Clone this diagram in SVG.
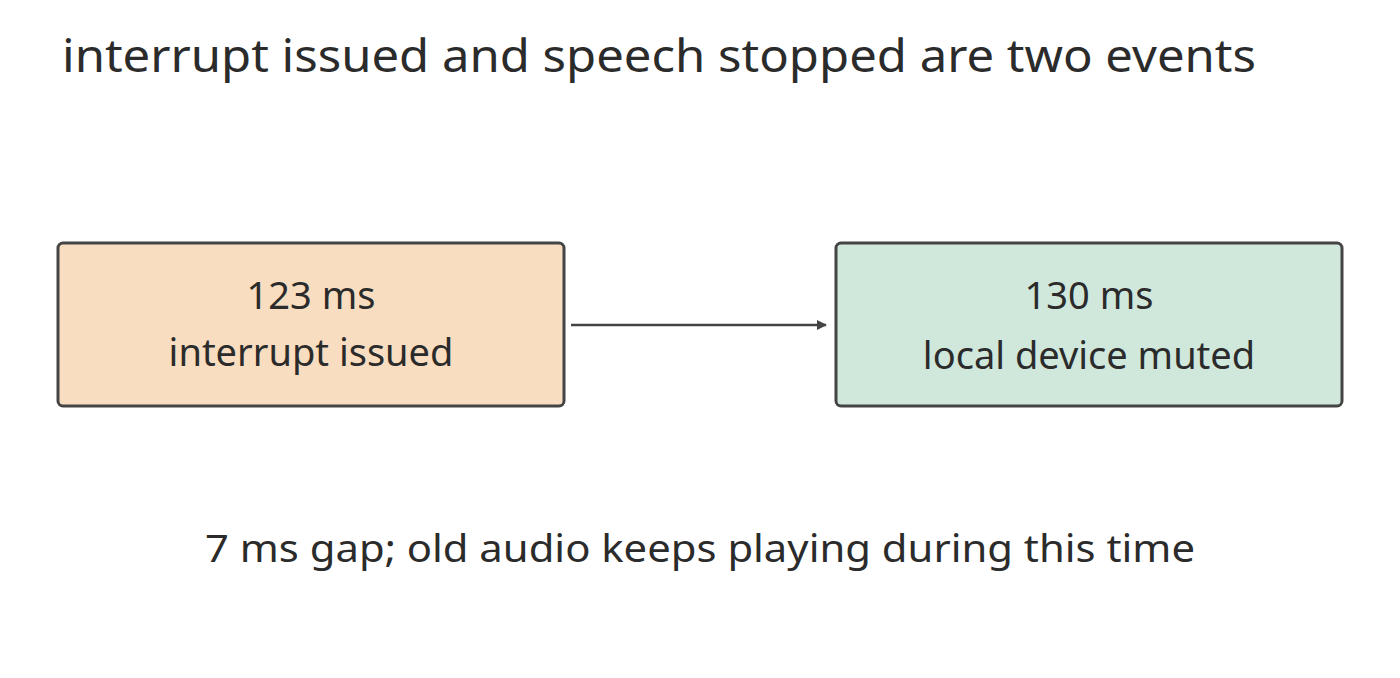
<svg xmlns="http://www.w3.org/2000/svg" width="1400" height="678" viewBox="0 0 1400 678">
<style>
text{font-family:"Source Sans Pro","Noto Sans","Liberation Sans",sans-serif;fill:#2b2b2b}
.box{stroke:#444;stroke-width:3}
.lbl{font-size:38px;text-anchor:middle}
</style>
<defs><marker id="ah" markerWidth="10" markerHeight="10" refX="9" refY="5" orient="auto" markerUnits="userSpaceOnUse" viewBox="0 0 10 10"><path d="M0,0L10,5L0,10z" fill="#444"/></marker></defs>
<rect width="1400" height="678" fill="#fff"/>
<text x="62" y="72" font-size="46" textLength="1194" lengthAdjust="spacingAndGlyphs">interrupt issued and speech stopped are two events</text>
<g id="n1"><rect class="box" x="58" y="243" width="506" height="163" rx="5" fill="#f8ddc0"/>
<text class="lbl" x="311" y="309">123 ms</text><text class="lbl" x="311" y="366">interrupt issued</text></g>
<g id="n2"><rect class="box" x="836" y="243" width="506" height="163" rx="5" fill="#d0e7dc"/>
<text class="lbl" x="1089" y="309">130 ms</text><text class="lbl" x="1089" y="369">local device muted</text></g>
<g id="connectors"><line x1="571" y1="325" x2="826" y2="325" stroke="#444" stroke-width="2.5" marker-end="url(#ah)"/></g>
<text x="700" y="562" font-size="38" text-anchor="middle" textLength="990" lengthAdjust="spacingAndGlyphs">7 ms gap; old audio keeps playing during this time</text>
</svg>
